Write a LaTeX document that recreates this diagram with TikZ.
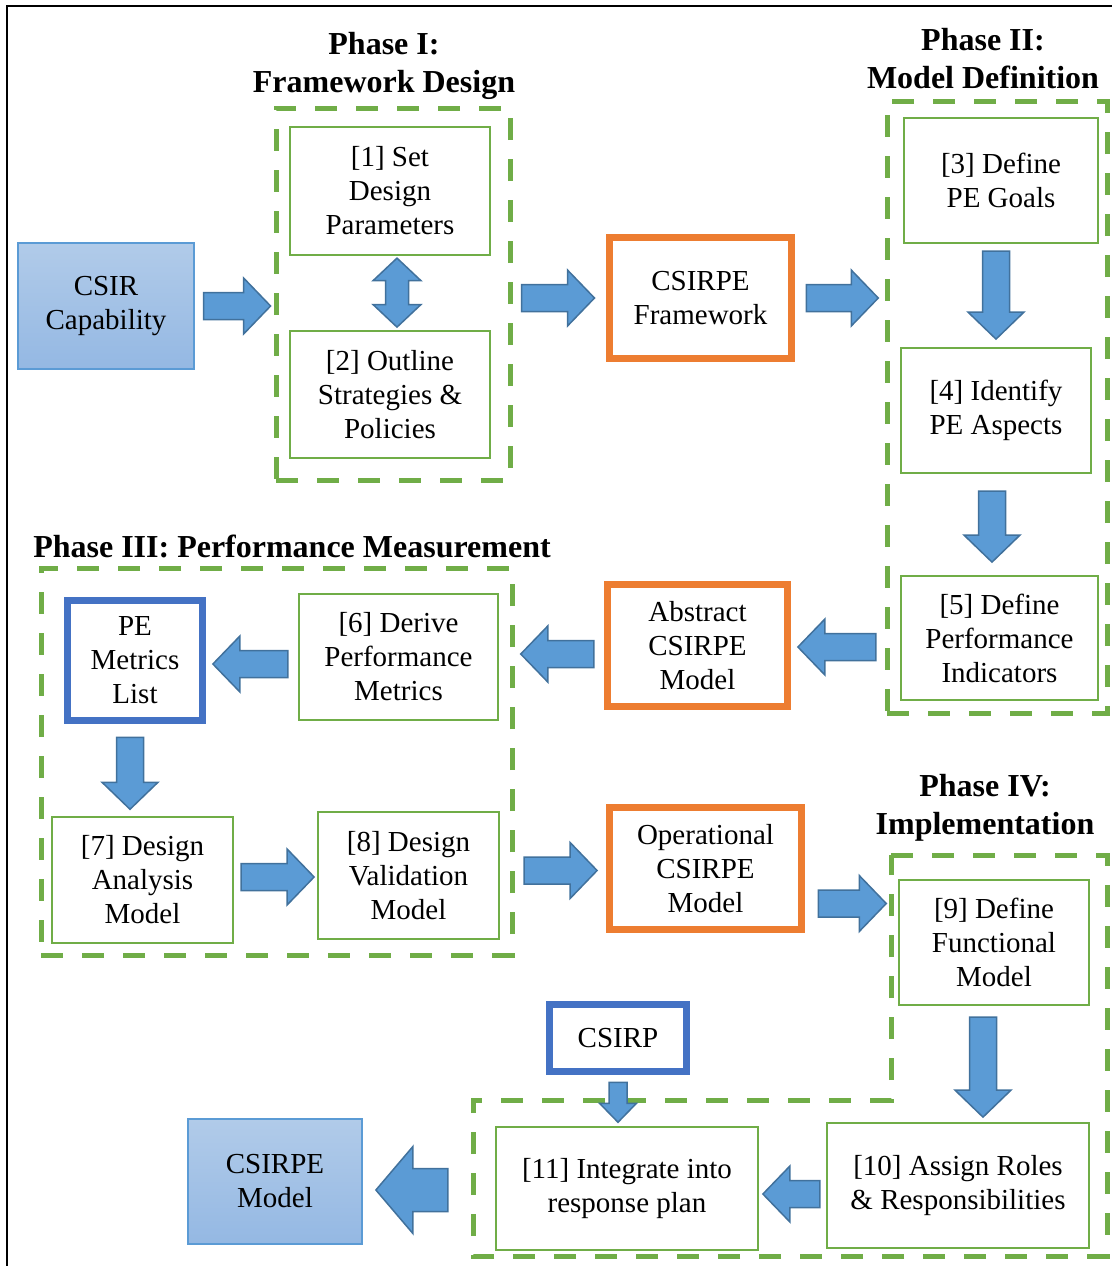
\documentclass[tikz,border=0pt]{standalone}
\usepackage{fontspec}
\setmainfont{Liberation Serif}
\usetikzlibrary{calc, positioning}
\definecolor{phaseGreen}{HTML}{70AD47}
\definecolor{keyOrange}{HTML}{ED7D31}
\definecolor{keyBlue}{HTML}{4472C4}
\definecolor{arrowFill}{HTML}{5B9BD5}
\definecolor{arrowEdge}{HTML}{41719C}
\definecolor{ioTop}{HTML}{B1CBE9}
\definecolor{ioBottom}{HTML}{94B8E3}
\definecolor{ioEdge}{HTML}{5B9BD5}
\tikzset{
  shaftw/.store in=\fatS, headw/.store in=\fatW, headl/.store in=\fatH,
  shaftw=6.75pt, headw=14pt, headl=13.5pt,
  stepbox/.style={rectangle, draw=phaseGreen, line width=1.1pt, align=center, inner sep=2pt},
  keybox/.style={rectangle, draw=keyOrange, line width=3.75pt, align=center, inner sep=2pt},
  listbox/.style={rectangle, draw=keyBlue, line width=3.75pt, align=center, inner sep=2pt},
  iobox/.style={rectangle, draw=ioEdge, line width=0.6pt, top color=ioTop, bottom color=ioBottom,
                align=center, inner sep=2pt},
  phase/.style={rectangle, draw=phaseGreen, line width=2.5pt, dash pattern=on 11pt off 9.5pt},
  phasetitle/.style={font=\fontsize{16}{19}\selectfont\bfseries, align=center},
  fat/.style={draw=arrowEdge, fill=arrowFill, line width=0.75pt, line join=miter,
    to path={
      ($(\tikztostart)!\fatS!90:(\tikztotarget)$)
      -- ($($(\tikztotarget)!\fatH!(\tikztostart)$)!\fatS!90:(\tikztotarget)$)
      -- ($($(\tikztotarget)!\fatH!(\tikztostart)$)!\fatW!90:(\tikztotarget)$)
      -- (\tikztotarget)
      -- ($($(\tikztotarget)!\fatH!(\tikztostart)$)!\fatW!-90:(\tikztotarget)$)
      -- ($($(\tikztotarget)!\fatH!(\tikztostart)$)!\fatS!-90:(\tikztotarget)$)
      -- ($(\tikztostart)!\fatS!-90:(\tikztotarget)$)
      -- cycle}},
  fatboth/.style={draw=arrowEdge, fill=arrowFill, line width=0.75pt, line join=miter,
    to path={
      (\tikztostart)
      -- ($($(\tikztostart)!\fatH!(\tikztotarget)$)!\fatW!90:(\tikztotarget)$)
      -- ($($(\tikztostart)!\fatH!(\tikztotarget)$)!\fatS!90:(\tikztotarget)$)
      -- ($($(\tikztotarget)!\fatH!(\tikztostart)$)!\fatS!90:(\tikztotarget)$)
      -- ($($(\tikztotarget)!\fatH!(\tikztostart)$)!\fatW!90:(\tikztotarget)$)
      -- (\tikztotarget)
      -- ($($(\tikztotarget)!\fatH!(\tikztostart)$)!\fatW!-90:(\tikztotarget)$)
      -- ($($(\tikztotarget)!\fatH!(\tikztostart)$)!\fatS!-90:(\tikztotarget)$)
      -- ($($(\tikztostart)!\fatH!(\tikztotarget)$)!\fatS!-90:(\tikztotarget)$)
      -- ($($(\tikztostart)!\fatH!(\tikztotarget)$)!\fatW!-90:(\tikztotarget)$)
      -- cycle}},
}
\begin{document}
\begin{tikzpicture}[x=0.5pt, y=-0.5pt, font=\fontsize{14.5}{17}\selectfont]
  \useasboundingbox (0,0) rectangle (1112,1266);
  \draw[line width=1pt] (7,1290) -- (7,6) -- (1130,6);

  % phase I
  \node[phasetitle] (t1) at (384,66) {Phase I:\\Framework Design};
  \node[phase, minimum width=117pt, minimum height=186pt] (p1) at (393,294) {};
  \node[iobox, minimum width=88pt, minimum height=63pt] (cap) at (106,306) {CSIR\\Capability};
  \node[stepbox, minimum width=100pt, minimum height=64pt] (n1) at (390,191) {[1] Set\\Design\\Parameters};
  \node[stepbox, minimum width=100pt, minimum height=63.5pt] (n2) at (390,394.5) {[2] Outline\\Strategies \&\\Policies};
  \node[keybox, minimum width=91pt, minimum height=60.5pt] (fw) at (700.5,298) {CSIRPE\\Framework};

  % phase II
  \node[phasetitle] (t2) at (983,59) {Phase II:\\Model Definition};
  \node[phase, minimum width=110pt, minimum height=306pt] (p2) at (997,407) {};
  \node[stepbox, minimum width=97pt, minimum height=62.5pt] (n3) at (1001,180.5) {[3] Define\\PE Goals};
  \node[stepbox, minimum width=95pt, minimum height=62.5pt] (n4) at (996,410.5) {[4] Identify\\PE Aspects};
  \node[stepbox, minimum width=98.5pt, minimum height=62pt] (n5) at (999.5,638) {[5] Define\\Performance\\Indicators};
  \node[keybox, minimum width=90pt, minimum height=61pt] (abs) at (697.5,645.5) {Abstract\\CSIRPE\\Model};

  % phase III
  \node[phasetitle] (t3) at (292,546) {Phase III: Performance Measurement};
  \node[phase, minimum width=235.5pt, minimum height=193.5pt] (p3) at (276.5,761.5) {};
  \node[listbox, minimum width=67.5pt, minimum height=60pt] (pel) at (135,660.5) {PE\\Metrics\\List};
  \node[stepbox, minimum width=99.5pt, minimum height=63pt] (n6) at (398.5,657) {[6] Derive\\Performance\\Metrics};
  \node[stepbox, minimum width=90.5pt, minimum height=63pt] (n7) at (142.5,880) {[7] Design\\Analysis\\Model};
  \node[stepbox, minimum width=90.5pt, minimum height=63.5pt] (n8) at (408.5,875.5) {[8] Design\\Validation\\Model};
  \node[keybox, minimum width=96pt, minimum height=61pt] (op) at (705.5,868.5) {Operational\\CSIRPE\\Model};

  % phase IV
  \node[phasetitle] (t4) at (985,808) {Phase IV:\\Implementation};
  \draw[phase] (891,855) -- (1107,855) -- (1107,1256) -- (473,1256) -- (473,1100) -- (891,1100) -- cycle;
  \node[stepbox, minimum width=95pt, minimum height=62.5pt] (n9) at (994,942.5) {[9] Define\\Functional\\Model};
  \node[stepbox, minimum width=131pt, minimum height=62.5pt] (n10) at (958,1185.5) {[10] Assign Roles\\\& Responsibilities};
  \node[stepbox, minimum width=131pt, minimum height=61.5pt] (n11) at (627,1188.5) {[11] Integrate into\\response plan};
  \node[listbox, minimum width=68.5pt, minimum height=33.5pt] (csirp) at (618,1038) {CSIRP};
  \node[iobox, minimum width=87pt, minimum height=62.5pt] (model) at (275,1181.5) {CSIRPE\\Model};

  \draw[fat] (cap.east) ++(9,0) to ++(67,0);
  \draw[fatboth, shaftw=5.75pt, headw=12pt, headl=11.3pt] (n1.south) ++(7,2) to ++(0,69);
  \draw[fat] (p1.east |- fw.west) ++(9,0) to ++(73,0);
  \draw[fat] (fw.east) ++(11,0) to ++(72,0);
  \draw[fat] (n3.south) ++(-5,7) to ++(0,88);
  \draw[fat] (n4.south) ++(-4,17) to ++(0,71);
  \draw[fat] (n5.west |- abs) ++(-24,1.5) to ++(-78,0);
  \draw[fat] (abs.west) ++(-10,8.5) to ++(-73,0);
  \draw[fat] (n6.west) ++(-10,7) to ++(-75,0);
  \draw[fat] (pel.south) ++(-5,13) to ++(0,72);
  \draw[fat] (n7.east) ++(7,-3) to ++(73,0);
  \draw[fat] (n8.east) ++(24,-5) to ++(73,0);
  \draw[fat] (op.east) ++(13,35) to ++(68,0);
  \draw[fat] (n9.south) ++(-11,11) to ++(0,100);
  \draw[fat] (n10.west) ++(-6,8.5) to ++(-57,0);
  \draw[fat, shaftw=4.5pt, headw=9.25pt, headl=9.5pt] (csirp.south) ++(0,7) to ++(0,40);
  \draw[fat, shaftw=10.75pt, headw=21.75pt, headl=18.5pt] (n11.west) ++(-47,1.5) to ++(-72,0);
\end{tikzpicture}
\end{document}
